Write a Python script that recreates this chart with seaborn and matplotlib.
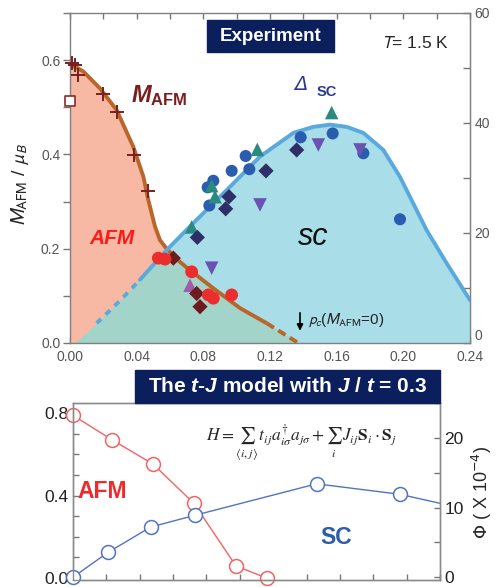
import numpy as np
import matplotlib
matplotlib.use("Agg")
import matplotlib.pyplot as plt
from matplotlib.patches import Rectangle
from matplotlib.ticker import MultipleLocator
import seaborn as sns

# ---------------- top panel: experiment ----------------
# M_AFM (left axis, mu_B)
cross_p = [0.001, 0.003, 0.005, 0.020, 0.028, 0.0385, 0.047]
cross_m = [0.595, 0.590, 0.568, 0.528, 0.489, 0.399, 0.323]
square_p = [0.0]
square_m = [0.514]
red_p = [0.053, 0.057, 0.073, 0.083, 0.086, 0.097]
red_m = [0.180, 0.178, 0.151, 0.102, 0.095, 0.102]
dred_p = [0.062, 0.076, 0.078]
dred_m = [0.180, 0.105, 0.077]

# M_AFM guide line (solid part, then dashed tail down to p_c)
mline_p = [0.0, 0.008, 0.018, 0.028, 0.038, 0.044, 0.047, 0.051, 0.054, 0.058,
           0.064, 0.070, 0.086, 0.102, 0.118]
mline_m = [0.592, 0.576, 0.540, 0.494, 0.416, 0.353, 0.303, 0.247, 0.218, 0.200,
           0.178, 0.160, 0.116, 0.074, 0.042]
mtail_p = [0.118, 0.137]
mtail_m = [0.042, 0.0]

# Delta_SC (right axis, meV)
circ_p = [0.0826, 0.086, 0.0836, 0.097, 0.1054, 0.1076, 0.1384, 0.1576, 0.176, 0.198]
circ_d = [28.3, 29.5, 25.0, 31.3, 34.0, 31.6, 37.4, 38.1, 34.5, 22.5]
tri_p = [0.073, 0.085, 0.087, 0.1124, 0.157]
tri_d = [21.1, 28.6, 26.6, 35.2, 41.9]
tdown_p = [0.085, 0.114, 0.149, 0.174]
tdown_d = [13.6, 25.1, 36.0, 35.1]
pink_p = [0.072]
pink_d = [10.5]
diam_p = [0.0764, 0.0934, 0.0954, 0.1176, 0.136]
diam_d = [19.2, 24.4, 26.6, 31.3, 35.1]

# Delta_SC guide line
dline_p = [0.003, 0.016, 0.030, 0.042, 0.058, 0.074, 0.094, 0.114, 0.134, 0.146,
           0.156, 0.166, 0.176, 0.188, 0.198, 0.214, 0.226, 0.240]
dline_d = [0.0, 3.6, 7.7, 11.5, 16.9, 21.8, 27.8, 33.9, 38.2, 39.3,
           39.7, 39.3, 38.2, 35.1, 30.2, 20.5, 14.5, 7.8]

# ---------------- bottom panel: t-J model ----------------
afm_p = [0.0, 0.0232, 0.048, 0.0725, 0.0977, 0.116]
afm_m = [0.79, 0.672, 0.553, 0.362, 0.058, 0.0]
sc_p = [0.0, 0.0212, 0.0466, 0.0733, 0.146, 0.196, 0.246]
sc_phi = [0.0, 3.6, 7.2, 8.9, 13.4, 11.9, 9.2]

sns.set_style("ticks")
plt.rcParams["font.family"] = ["Liberation Sans", "DejaVu Sans"]
plt.rcParams["mathtext.fontset"] = "custom"
plt.rcParams["mathtext.rm"] = "Liberation Sans"
plt.rcParams["mathtext.it"] = "Liberation Sans:italic:bold"
plt.rcParams["mathtext.bf"] = "Liberation Sans:bold"

W, H = 497, 587
fig = plt.figure(figsize=(W / 100, H / 100), dpi=100)


def fpos(x, y):
    return x / W, 1 - y / H


NAVY = "#0b1f5c"
AFM_FILL = "#f7b9a3"
SC_FILL = "#a9dde7"
OVER_FILL = "#a3d4c9"
ORANGE = "#b9662b"
BLUE = "#5aa9dd"
GRAY = "#555555"

ax = fig.add_axes([70 / W, 1 - 343 / H, 400 / W, 330 / H])
ax.set_xlim(0, 0.24)
ax.set_ylim(0, 0.7)
K = 0.7 / 60.0  # meV -> left axis units


def d2m(d):
    return np.asarray(d) * K


# fills
ax.fill_between(dline_p, 0, d2m(dline_d), color=SC_FILL, lw=0, zorder=1)
afm_all_p = mline_p + mtail_p[1:]
afm_all_m = mline_m + mtail_m[1:]
afm_coll = ax.fill_between(afm_all_p, 0, afm_all_m, color=AFM_FILL, lw=0, zorder=1)
over = ax.fill_between(dline_p, 0, d2m(dline_d), color=OVER_FILL, lw=0, zorder=2)
over.set_clip_path(afm_coll.get_paths()[0], ax.transData)

# guide lines
ax.plot(mline_p, mline_m, color=ORANGE, lw=2.8, zorder=3, solid_capstyle="butt")
ax.plot(mtail_p, mtail_m, color=ORANGE, lw=2.8, ls=(0, (2.2, 1.3)), zorder=3)
ax.plot(dline_p[1:4], d2m(dline_d[1:4]), color=BLUE, lw=2.8, ls=(0, (1.6, 1.6)), zorder=3)
ax.plot(dline_p[3:], d2m(dline_d[3:]), color=BLUE, lw=2.8, zorder=3,
        solid_joinstyle="round")

# markers
sns.scatterplot(x=cross_p, y=cross_m, marker="+", s=110, color="#7a1f1f",
                linewidth=1.4, ax=ax, zorder=5, clip_on=False)
sns.scatterplot(x=square_p, y=square_m, marker="s", s=50, facecolor="white",
                edgecolor="#8a2a2a", linewidth=1.2, ax=ax, zorder=5, clip_on=False)
sns.scatterplot(x=circ_p, y=d2m(circ_d), marker="o", s=75, color="#2a5db0",
                edgecolor="none", ax=ax, zorder=5)
sns.scatterplot(x=tri_p, y=d2m(tri_d), marker="^", s=95, color="#2b8a80",
                edgecolor="none", ax=ax, zorder=5)
sns.scatterplot(x=tdown_p, y=d2m(tdown_d), marker="v", s=95, color="#6a52b3",
                edgecolor="none", ax=ax, zorder=5)
sns.scatterplot(x=pink_p, y=d2m(pink_d), marker="^", s=95, color="#a05bab",
                edgecolor="none", ax=ax, zorder=5)
sns.scatterplot(x=diam_p, y=d2m(diam_d), marker="D", s=60, color="#2e2f66",
                edgecolor="none", ax=ax, zorder=5)
sns.scatterplot(x=dred_p, y=dred_m, marker="D", s=60, color="#6e1b1f",
                edgecolor="none", ax=ax, zorder=6)
sns.scatterplot(x=red_p, y=red_m, marker="o", s=85, color="#ec2d2d",
                edgecolor="none", ax=ax, zorder=6)

ax.set_xticks(np.arange(0, 0.2401, 0.04))
ax.xaxis.set_minor_locator(MultipleLocator(0.02))
ax.set_xticklabels([f"{v:.2f}" for v in np.arange(0, 0.2401, 0.04)])
ax.set_yticks([0.0, 0.2, 0.4, 0.6])
ax.set_yticklabels(["0.0", "0.2", "0.4", "0.6"])
ax.yaxis.set_minor_locator(MultipleLocator(0.1))
ax.tick_params(axis="x", which="both", direction="in", top=True, length=4,
               width=1, color="#777777", labelsize=10, labelcolor=GRAY, pad=5)
ax.tick_params(axis="y", which="both", direction="out", length=5, width=1,
               color="#777777", labelsize=10, labelcolor=GRAY, pad=2)
for s in ax.spines.values():
    s.set_color("#808080")
    s.set_linewidth(1.0)

sec = ax.secondary_yaxis("right", functions=(lambda y: y / K, lambda d: d * K))
sec.set_yticks([0, 20, 40, 60])
sec.yaxis.set_minor_locator(MultipleLocator(10))
sec.tick_params(which="both", direction="in", length=5, width=1, color="#777777",
                labelsize=10, labelcolor=GRAY, pad=3)
sec.spines["right"].set_color("#808080")
sec.get_yticklabels()[0].set_va("bottom")

# experiment box
ax.add_patch(Rectangle((0.3425, 0.882), 0.3175, 0.097, transform=ax.transAxes,
                       color=NAVY, zorder=7))
ax.text(0.501, 0.93, "Experiment", transform=ax.transAxes, ha="center", va="center",
        color="white", fontsize=13.5, fontweight="bold", zorder=8)

fig.text(*fpos(381, 43), "$T$= 1.5 K", fontsize=12.5, math_fontfamily="stixsans",
         va="center", ha="left")

fig.text(*fpos(301, 84), "\u0394", fontstyle="italic", fontsize=14, color="#2b3a8f",
         ha="center", va="center", family=["DejaVu Sans"])
fig.text(*fpos(327, 92), "SC", fontweight="bold", fontsize=10.5, color="#2b3a8f",
         ha="center", va="center")
fig.text(*fpos(131, 96), r"$M_{\mathbf{AFM}}$", fontsize=17, color="#7a1f1f",
         ha="left", va="center")
fig.text(*fpos(112, 239), "AFM", fontsize=15, fontweight="bold", fontstyle="italic",
         color="#ff1a1a", ha="center", va="center")
fig.text(*fpos(313, 237), "sc", fontsize=22, fontstyle="italic", color="#111111",
         ha="center", va="center")
fig.text(*fpos(308, 320), r"$p_c$($M_{\mathrm{AFM}}$=0)", fontsize=11,
         math_fontfamily="stixsans", ha="left", va="center")
ax.annotate("", xy=(0.138, 0.02), xytext=(0.138, 0.07),
            arrowprops=dict(arrowstyle="-|>", color="black", lw=1.2,
                            mutation_scale=9))
fig.text(*fpos(20, 185), r"$M_{\mathrm{AFM}}$ / $\mu_B$", fontsize=14, rotation=90,
         math_fontfamily="stixsans", ha="center", va="center")

# ---------------- bottom panel ----------------
ax3 = fig.add_axes([73 / W, 1 - 580 / H, 367 / W, 177 / H])
ax3.set_xlim(0, 0.22)
ax3.set_ylim(-0.01, 0.85)
ax4 = ax3.twinx()
ax4.set_ylim(-0.4, 25)

RED = "#f26464"
BLUE2 = "#5272c2"
sns.lineplot(x=afm_p, y=afm_m, ax=ax3, color=RED, lw=1.0, sort=False,
             marker="o", markersize=10, markerfacecolor="white",
             markeredgecolor=RED, markeredgewidth=1.1)
for ln in ax3.get_lines():
    ln.set_clip_on(False)
sns.lineplot(x=sc_p, y=sc_phi, ax=ax4, color=BLUE2, lw=1.0, sort=False)
inside = [i for i, p in enumerate(sc_p) if p <= 0.22]
ax4.plot([sc_p[i] for i in inside], [sc_phi[i] for i in inside], ls="none",
         marker="o", markersize=10, markerfacecolor="white",
         markeredgecolor=BLUE2, markeredgewidth=1.1, clip_on=False)

ax3.xaxis.set_major_locator(MultipleLocator(0.02))
ax3.set_xticklabels([])
ax3.set_yticks([0.0, 0.4, 0.8])
ax3.set_yticklabels(["0.0", "0.4", "0.8"])
ax3.yaxis.set_minor_locator(MultipleLocator(0.1))
ax3.tick_params(axis="both", which="both", direction="in", length=4, width=1,
                color="#777777", labelsize=12.5, labelcolor="#222222", pad=3)
ax4.set_yticks([0, 10, 20])
ax4.set_yticklabels(["0", "10", "20"])
ax4.yaxis.set_minor_locator(MultipleLocator(5))
ax4.tick_params(which="both", direction="in", length=4, width=1, color="#777777",
                labelsize=12.5, labelcolor="#222222", pad=3)
for a in (ax3, ax4):
    for s in a.spines.values():
        s.set_color("#8a8a8a")
        s.set_linewidth(1.0)
    a.set_xlabel("")
    a.set_ylabel("")

fig.patches.append(Rectangle(fpos(135, 403), 305 / W, 33 / H, transform=fig.transFigure,
                             color=NAVY, zorder=10, figure=fig))
fig.text(*fpos(288, 387), r"The $t$-$J$ model with $J$ / $t$ = 0.3", color="white",
         fontsize=15, fontweight="bold", ha="center", va="center", zorder=11)

fig.text(*fpos(301, 443),
         r"$H=\sum_{\langle i,j\rangle}\, t_{ij}a^{\dagger}_{i\sigma}a_{j\sigma}"
         r"+\sum_{i}\, J_{ij}\mathbf{S}_i\cdot\mathbf{S}_j$",
         fontsize=12.5, math_fontfamily="stix", ha="center", va="center")
fig.text(*fpos(102, 492), "AFM", fontsize=16.5, fontweight="bold", color="#f02a2a",
         ha="center", va="center")
fig.text(*fpos(336, 537), "SC", fontsize=16.5, fontweight="bold", color="#2a5db0",
         ha="center", va="center")
fig.text(*fpos(482, 492), r"$\Phi$ ( X 10$^{-4}$)", fontsize=13, rotation=90,
         math_fontfamily="dejavusans", ha="center", va="center")

fig.savefig("out.png", dpi=100)
